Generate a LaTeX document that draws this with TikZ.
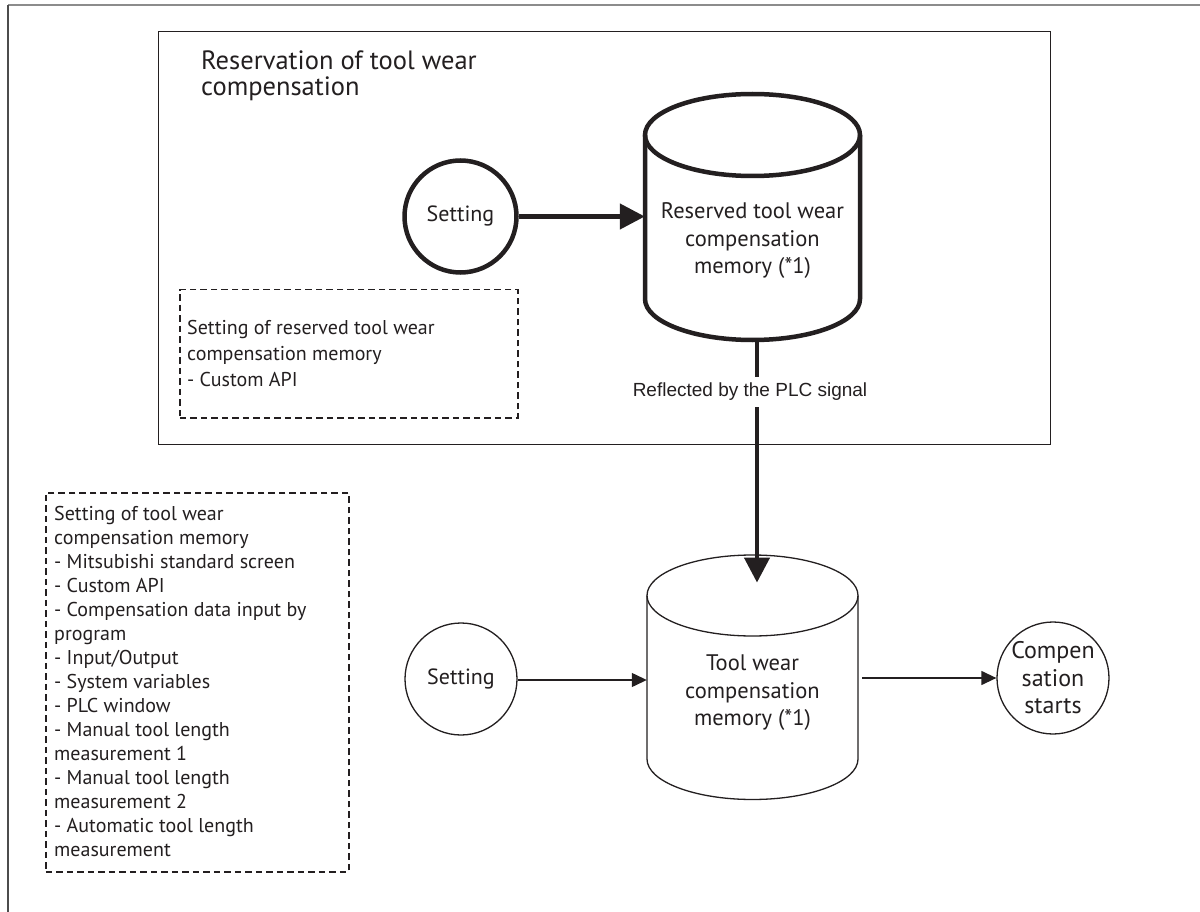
\documentclass[tikz,border=0pt]{standalone}
\usepackage{fontspec}
\setmainfont{PT Sans}
\newfontfamily\arialfont{Liberation Sans}
\usetikzlibrary{arrows.meta}
\definecolor{ink}{RGB}{35,31,32}
\begin{document}
\begin{tikzpicture}[x=1pt,y=-1pt,
  every node/.style={text=ink},
  thinline/.style={draw=ink,line width=1.3pt},
  thickline/.style={draw=ink,line width=4.5pt},
  dashbox/.style={draw=ink,line width=1.5pt,dash pattern=on 6.5pt off 4pt},
  cyltxt/.style={font=\fontsize{22.5}{27.5}\selectfont,align=center},
  boxtxt/.style={font=\fontsize{20}{24}\selectfont,align=left,inner sep=0pt},
  bubble/.style={circle,minimum size=112pt,inner sep=0pt,align=center},
  thickarrow/.style={thickline,-{Triangle[length=25pt,width=25pt]}},
  thinarrow/.style={thinline,-{Triangle[length=15pt,width=14pt]}}]
\useasboundingbox (0,0) rectangle (1200,912);
\fill[white] (0,0) rectangle (1200,912);
% outer frame
\draw[line width=1.5pt,draw=black!45] (8,5) -- (1200,5);
\draw[line width=1.3pt,draw=black!70] (8,5) -- (8,912);
% reservation frame
\node[thinline,minimum width=892pt,minimum height=413pt,anchor=north west,inner sep=0pt] (resv) at (158,31) {};
\node[font=\fontsize{26.5}{25.5}\selectfont,align=left,anchor=west,inner sep=0pt] (title) at (201,76) {Reservation of tool wear\\compensation};
% dashed boxes
\node[dashbox,minimum width=338pt,minimum height=128pt,anchor=north west,inner sep=0pt] (db1) at (179,289) {};
\node[boxtxt,font=\fontsize{20}{26}\selectfont,anchor=west] (db1t) at (187,353) {Setting of reserved tool wear\\compensation memory\\- Custom API};
\node[dashbox,minimum width=303pt,minimum height=379pt,anchor=north west,inner sep=0pt] (db2) at (45,492) {};
\node[boxtxt,anchor=west] (db2t) at (54,681) {Setting of tool wear\\compensation memory\\- Mitsubishi standard screen\\- Custom API\\- Compensation data input by\\program\\- Input/Output\\- System variables\\- PLC window\\- Manual tool length\\measurement 1\\- Manual tool length\\measurement 2\\- Automatic tool length\\measurement};
% reserved cylinder
\node[minimum width=215pt,minimum height=245pt,inner sep=0pt] (res) at (752.5,217.5) {};
\draw[thickline] (752.5,135) ellipse [x radius=107.5pt,y radius=41pt];
\draw[thickline] (645,135) -- (645,299) arc[start angle=180,end angle=360,x radius=107.5pt,y radius=41pt] -- (860,135);
\node[cyltxt] (rest) at (752.5,241) {Reserved tool wear\\compensation\\memory (*1)};
% tool wear cylinder
\node[minimum width=211pt,minimum height=244.5pt,inner sep=0pt] (tw) at (752.5,677) {};
\draw[thinline] (752.5,595.5) ellipse [x radius=105.5pt,y radius=40.5pt];
\draw[thinline] (647,595.5) -- (647,759) arc[start angle=180,end angle=360,x radius=105.5pt,y radius=40.5pt] -- (858,595.5);
\node[cyltxt] (twt) at (752.5,693) {Tool wear\\compensation\\memory (*1)};
% circles
\node[bubble,thickline,font=\fontsize{22}{27.5}\selectfont] (set1) at (460.5,216.5) {Setting};
\node[bubble,thinline,font=\fontsize{22}{27.5}\selectfont] (set2) at (461,679) {Setting};
\node[bubble,thinline,font=\fontsize{24}{27.5}\selectfont] (comp) at (1053,678) {Compen\\sation\\starts};
% connectors
\draw[thickarrow] (set1.east) -- (set1.east -| res.west);
\coordinate (plcA) at ([xshift=4.5pt]res.south);
\coordinate (plcB) at ([xshift=4.5pt,yshift=-28pt]tw.north);
\draw[thickarrow] (plcA) -- (plcB);
\node[fill=white,font=\arialfont\fontsize{19}{23}\selectfont,inner xsep=2pt,inner ysep=6pt] (plc) at (750,392) {Reflected by the PLC signal};
\draw[thinarrow] (set2.east |- 0,680) -- (tw.west |- 0,680);
\draw[thinarrow] ([xshift=4pt]tw.east |- comp.west) -- (comp.west);
\end{tikzpicture}
\end{document}
